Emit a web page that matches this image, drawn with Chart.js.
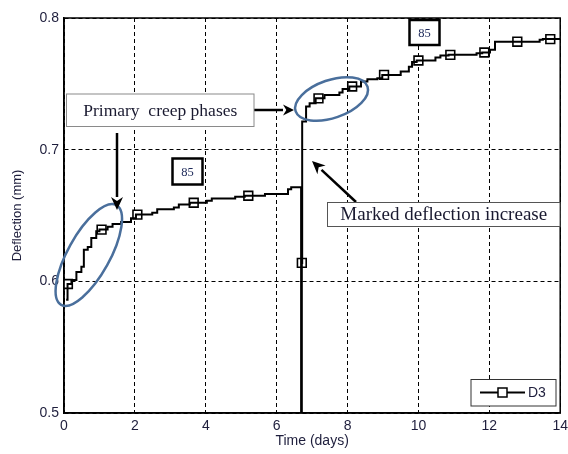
<!DOCTYPE html>
<html>
<head>
<meta charset="utf-8">
<script src="https://cdn.jsdelivr.net/npm/chart.js@4/dist/chart.umd.min.js"></script>
<style>
  body { margin: 0; background: #fff; }
  canvas { display: block; }
</style>
</head>
<body>
<canvas id="creepChart" width="568" height="454"></canvas>
<script>
// stepped record of D3 (day where value changes, deflection after the change)
const stepDays = [0.06, 0.10, 0.21, 0.35, 0.49, 0.56, 0.67, 0.77, 0.91, 1.00, 1.23, 1.37, 1.61, 1.89, 2.03,
  2.49, 2.63, 3.10, 3.24, 3.55, 4.03, 4.17, 4.83, 5.10, 5.67, 6.32, 6.41, 6.69, 6.71, 6.72, 6.83, 6.93,
  7.10, 7.35, 7.77, 7.86, 8.05, 8.38, 8.56, 8.84, 8.98, 9.50, 9.73, 9.82, 9.95, 10.48, 10.62, 10.85,
  11.64, 11.80, 12.02, 12.16, 13.42, 13.51, 14.0];
const stepDefl = [0.586, 0.598, 0.601, 0.607, 0.611, 0.624, 0.626, 0.633, 0.638, 0.6393, 0.6415, 0.6435, 0.645, 0.648, 0.6507,
  0.652, 0.6547, 0.656, 0.6584, 0.6597, 0.6612, 0.663, 0.6643, 0.665, 0.6663, 0.670, 0.6714, 0.45, 0.614, 0.7213, 0.7327, 0.7353,
  0.739, 0.7416, 0.7434, 0.746, 0.748, 0.7517, 0.7535, 0.7543, 0.7568, 0.7593, 0.763, 0.7665, 0.7677, 0.770, 0.7715, 0.772,
  0.7733, 0.7738, 0.7758, 0.782, 0.7834, 0.784, 0.784];

// square markers
const markerDays = [0.11, 1.06, 2.07, 3.66, 5.20, 6.71, 7.18, 8.13, 9.03, 10.0, 10.9, 11.86, 12.79, 13.72];
const markerDefl = [0.598, 0.6393, 0.6507, 0.6597, 0.665, 0.614, 0.739, 0.748, 0.7568, 0.7677, 0.772, 0.7738, 0.782, 0.784];

const xTicks = [0, 2, 4, 6, 8, 10, 12, 14];
const yTicks = [0.5, 0.6, 0.7, 0.8];
const seriesName = 'D3';
const loadLabel = '85';

const tickColor = '#1e1e3c';

function arrow(ctx, x1, y1, x2, y2, head, wing) {
  const a = Math.atan2(y2 - y1, x2 - x1);
  const bx = x2 - head * Math.cos(a), by = y2 - head * Math.sin(a);
  ctx.beginPath();
  ctx.moveTo(x1, y1);
  ctx.lineTo(bx, by);
  ctx.stroke();
  ctx.beginPath();
  ctx.moveTo(x2, y2);
  ctx.lineTo(bx + wing * Math.sin(a), by - wing * Math.cos(a));
  ctx.lineTo(bx + head * 0.3 * Math.cos(a), by + head * 0.3 * Math.sin(a));
  ctx.lineTo(bx - wing * Math.sin(a), by + wing * Math.cos(a));
  ctx.closePath();
  ctx.fill();
}

function textBox(ctx, x, y, w, h, text, font, border, lw, color) {
  ctx.fillStyle = '#fff';
  ctx.fillRect(x, y, w, h);
  ctx.strokeStyle = border;
  ctx.lineWidth = lw;
  ctx.strokeRect(x, y, w, h);
  ctx.fillStyle = color;
  ctx.font = font;
  ctx.textAlign = 'center';
  ctx.textBaseline = 'middle';
  ctx.fillText(text, x + w / 2, y + h / 2 + 1);
}

const overlay = {
  id: 'overlay',
  afterDraw(chart) {
    const ctx = chart.ctx;
    const a = chart.chartArea;
    const xs = chart.scales.x, ys = chart.scales.y;
    ctx.save();
    // frame
    ctx.strokeStyle = '#000';
    ctx.lineWidth = 1.5;
    ctx.strokeRect(a.left, a.top, a.right - a.left, a.bottom - a.top);

    // ellipses around primary creep phases
    ctx.strokeStyle = '#4a6f9c';
    ctx.lineWidth = 2.5;
    ctx.beginPath();
    ctx.ellipse(xs.getPixelForValue(0.7), ys.getPixelForValue(0.620), 57, 21, -61 * Math.PI / 180, 0, Math.PI * 2);
    ctx.stroke();
    ctx.beginPath();
    ctx.ellipse(xs.getPixelForValue(7.55), ys.getPixelForValue(0.7385), 38, 19, -19 * Math.PI / 180, 0, Math.PI * 2);
    ctx.stroke();

    // arrows
    ctx.strokeStyle = '#000';
    ctx.fillStyle = '#000';
    ctx.lineWidth = 2.5;
    arrow(ctx, 254, 110, 294, 110, 11, 5.5);
    arrow(ctx, 117, 133, 117, 210, 13, 6);
    arrow(ctx, 356, 202, 312, 161, 13, 6);

    // text boxes
    textBox(ctx, 66.5, 94, 187.5, 32.5, 'Primary  creep phases', '17.5px "Liberation Serif"', '#8a8a8a', 1, '#1a1a30');
    textBox(ctx, 327.5, 202.5, 232.5, 24, 'Marked deflection increase', '19px "Liberation Serif"', '#555', 1, '#1a1a30');
    textBox(ctx, 172.5, 158.5, 30, 26, loadLabel, '12.5px "Liberation Serif"', '#000', 2.5, '#1e2a5a');
    textBox(ctx, 409.5, 20, 30, 25, loadLabel, '12.5px "Liberation Serif"', '#000', 2.5, '#1e2a5a');

    // legend
    ctx.fillStyle = '#fff';
    ctx.fillRect(471, 379.5, 85, 26.5);
    ctx.strokeStyle = '#333';
    ctx.lineWidth = 1;
    ctx.strokeRect(471, 379.5, 85, 26.5);
    ctx.strokeStyle = '#000';
    ctx.lineWidth = 2;
    ctx.beginPath();
    ctx.moveTo(480, 392.5);
    ctx.lineTo(525, 392.5);
    ctx.stroke();
    ctx.fillStyle = '#fff';
    ctx.lineWidth = 1.5;
    ctx.fillRect(498, 388, 9, 9);
    ctx.strokeRect(498, 388, 9, 9);
    ctx.fillStyle = tickColor;
    ctx.font = '14px "Liberation Sans"';
    ctx.textAlign = 'left';
    ctx.textBaseline = 'middle';
    ctx.fillText(seriesName, 528, 393);
    ctx.restore();
  }
};

new Chart(document.getElementById('creepChart').getContext('2d'), {
  type: 'line',
  data: {
    datasets: [{
      label: seriesName,
      data: stepDays.map((d, i) => ({ x: d, y: stepDefl[i] })),
      stepped: 'before',
      borderColor: '#000',
      borderWidth: 2,
      pointRadius: 0,
      fill: false
    }, {
      label: seriesName + ' markers',
      data: markerDays.map((d, i) => ({ x: d, y: markerDefl[i] })),
      showLine: false,
      pointStyle: 'rect',
      pointRadius: 6.2,
      pointBackgroundColor: '#fff',
      pointBorderColor: '#000',
      pointBorderWidth: 1.6
    }]
  },
  options: {
    responsive: false,
    animation: false,
    events: [],
    layout: { padding: { top: 18, right: 5, left: 0, bottom: 0 } },
    plugins: {
      legend: { display: false },
      tooltip: { enabled: false }
    },
    scales: {
      x: {
        type: 'linear',
        min: 0,
        max: 14,
        afterBuildTicks: s => { s.ticks = xTicks.map(v => ({ value: v })); },
        afterFit: s => { s.height = 41; s.paddingLeft = 0; s.paddingRight = 0; },
        ticks: { color: tickColor, font: { family: 'Liberation Sans', size: 14 }, padding: 5, maxRotation: 0 },
        grid: { color: '#000', lineWidth: 1, drawTicks: false },
        border: { color: '#000', width: 1.5, dash: [4, 3] },
        title: { display: true, text: 'Time (days)', color: tickColor, font: { family: 'Liberation Sans', size: 14 }, padding: { top: 0, bottom: 4 } }
      },
      y: {
        min: 0.5,
        max: 0.8,
        afterBuildTicks: s => { s.ticks = yTicks.map(v => ({ value: v })); },
        afterFit: s => { s.width = 64; s.paddingTop = 0; s.paddingBottom = 0; },
        ticks: { color: tickColor, font: { family: 'Liberation Sans', size: 14 }, padding: 5, callback: v => v.toFixed(1) },
        grid: { color: '#000', lineWidth: 1, drawTicks: false },
        border: { color: '#000', width: 1.5, dash: [4, 3] },
        title: { display: true, text: 'Deflection (mm)', color: tickColor, font: { family: 'Liberation Sans', size: 13 }, padding: { top: 10, bottom: 0 } }
      }
    }
  },
  plugins: [overlay]
});
</script>
</body>
</html>
